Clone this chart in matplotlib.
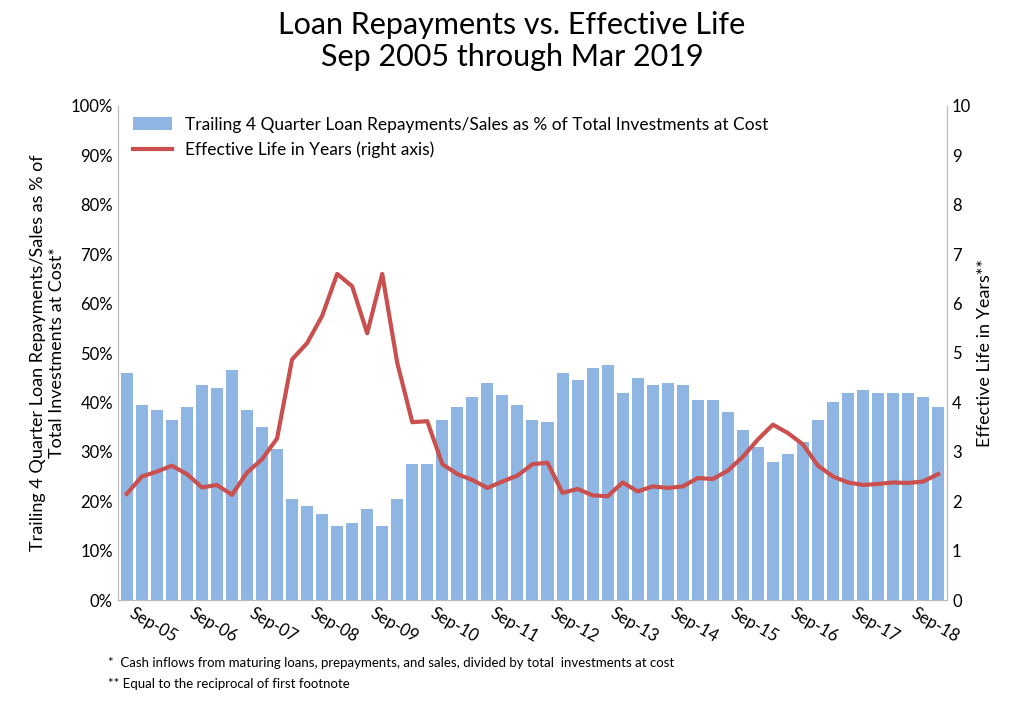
import matplotlib
matplotlib.use("Agg")
import matplotlib.pyplot as plt
import numpy as np
from matplotlib.ticker import PercentFormatter

quarters = []
for y in range(2005, 2020):
    for m in ["Mar", "Jun", "Sep", "Dec"]:
        quarters.append(f"{m}-{str(y)[2:]}")
quarters = quarters[2:quarters.index("Mar-19") + 1]

repay_pct = [46, 39.5, 38.5, 36.5, 39, 43.5, 43, 46.5, 38.5, 35, 30.5, 20.5, 19, 17.5, 15, 15.5,
             18.5, 15, 20.5, 27.5, 27.5, 36.5, 39, 41, 44, 41.5, 39.5, 36.5, 36, 46, 44.5, 47,
             47.5, 42, 45, 43.5, 44, 43.5, 40.5, 40.5, 38, 34.5, 31, 28, 29.5, 32, 36.5, 40, 42,
             42.5, 42, 42, 42, 41, 39]
eff_life = [2.15, 2.5, 2.6, 2.72, 2.55, 2.28, 2.33, 2.13, 2.58, 2.85, 3.27, 4.87, 5.2, 5.75, 6.6,
            6.35, 5.4, 6.6, 4.8, 3.6, 3.62, 2.75, 2.55, 2.43, 2.27, 2.4, 2.52, 2.75, 2.78, 2.17,
            2.25, 2.12, 2.1, 2.38, 2.2, 2.3, 2.27, 2.3, 2.47, 2.45, 2.62, 2.9, 3.25, 3.55, 3.38,
            3.15, 2.72, 2.5, 2.38, 2.33, 2.35, 2.38, 2.37, 2.4, 2.55]

plt.rcParams['font.family'] = ['Lato', 'DejaVu Sans']
fig = plt.figure(figsize=(10.24, 7.06), dpi=100)
ax = fig.add_axes([0.115, 0.15, 0.81, 0.70])
x = np.arange(len(quarters))
ax.bar(x, repay_pct, width=0.8, color='#8fb5e3',
       label='Trailing 4 Quarter Loan Repayments/Sales as % of Total Investments at Cost')
ax.set_ylim(0, 100)
ax.set_yticks(range(0, 101, 10))
ax.yaxis.set_major_formatter(PercentFormatter(decimals=0))
ax.set_xlim(-0.6, len(x) - 0.4)
ticks = [i for i, q in enumerate(quarters) if q.startswith("Sep")]
ax.set_xticks(ticks)
ax.set_xticklabels([quarters[i] for i in ticks], rotation=-30, ha='left', fontsize=12)
ax.tick_params(axis='y', labelsize=12, length=0)
ax.tick_params(axis='x', length=0)
ax.set_ylabel('Trailing 4 Quarter Loan Repayments/Sales as % of\nTotal Investments at Cost*', fontsize=13)
for s in ['top']:
    ax.spines[s].set_visible(False)

ax2 = ax.twinx()
ax2.plot(x, eff_life, color='#c9504f', lw=3, label='Effective Life in Years (right axis)')
ax2.set_ylim(0, 10)
ax2.set_yticks(range(0, 11))
ax2.tick_params(axis='y', labelsize=12, length=0)
ax2.set_ylabel('Effective Life in Years**', fontsize=13)
ax2.spines['top'].set_visible(False)
for a in (ax, ax2):
    for s in a.spines.values():
        s.set_color('#bbbbbb')

h1, l1 = ax.get_legend_handles_labels()
h2, l2 = ax2.get_legend_handles_labels()
ax.legend(h1 + h2, l1 + l2, loc='upper left', frameon=False, fontsize=12.5,
          bbox_to_anchor=(0.0, 1.01), handlelength=2.2)

fig.suptitle('Loan Repayments vs. Effective Life\nSep 2005 through Mar 2019', fontsize=22, y=0.985)
fig.text(0.105, 0.055, '*  Cash inflows from maturing loans, prepayments, and sales, divided by total  investments at cost', fontsize=9.5)
fig.text(0.105, 0.025, '** Equal to the reciprocal of first footnote', fontsize=9.5)
fig.savefig('out.png')
